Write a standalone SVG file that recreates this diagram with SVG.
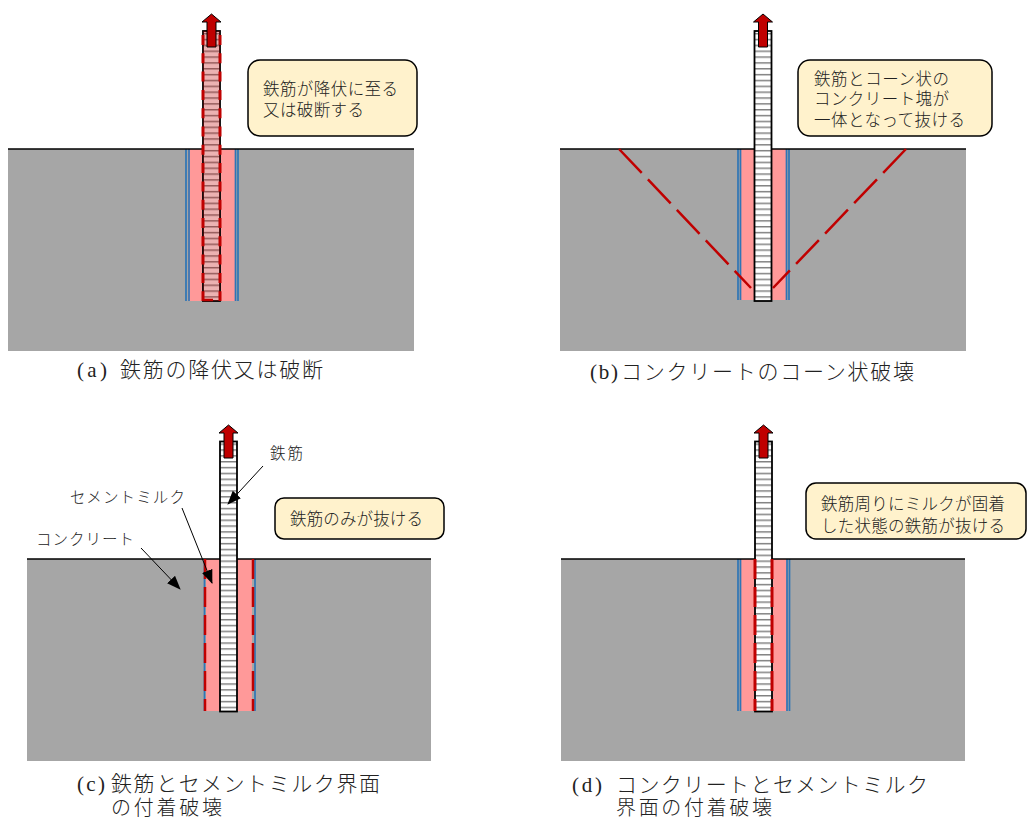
<svg xmlns="http://www.w3.org/2000/svg" width="1027" height="820" viewBox="0 0 1027 820">
<style>
text{font-family:"Liberation Serif","Noto Sans CJK JP",serif;fill:#222;font-weight:300}
.cap{font-size:21px}
.cap2{font-size:20px}
.call{font-size:16.500px}
.lab{font-size:15.500px}
.conc{fill:#a6a6a6}
.milk{fill:#ff9999}
.top{stroke:#000;stroke-width:1.3;fill:none}
.blue{stroke:#2e75b6;stroke-width:1.7;fill:none}
.box{fill:#fff2cc;stroke:#000;stroke-width:1.5}
.red{stroke:#c00000;fill:none}
.lead{stroke:#000;stroke-width:1;fill:none;marker-end:url(#tri)}
</style>
<defs>
<pattern id="hatch" patternUnits="userSpaceOnUse" width="17" height="5.85">
<rect width="17" height="5.85" fill="#fff"/>
<rect y="2" width="17" height="1.4" fill="#7a7a7a"/>
</pattern>
<g id="rebar">
<rect x="0" y="0" width="17" height="270" fill="url(#hatch)" stroke="#000" stroke-width="1.8"/>
</g>
<path id="pull" d="M0 -17L9.500 -9H4.500V16H-4.500V-9H-9.500Z" fill="#c00000" stroke="#000" stroke-width="1"/>
<marker id="tri" markerUnits="userSpaceOnUse" markerWidth="14" markerHeight="12" refX="13" refY="5.500" orient="auto" viewBox="0 0 14 11"><path d="M0 0L14 5.500L0 11Z" fill="#000"/></marker>
</defs>

<g id="panel-a">
<rect class="conc" x="8" y="149" width="406" height="202"/>
<rect class="milk" x="188" y="149" width="48" height="152"/>
<path class="blue" d="M186 149V301M189 149V301M235.500 149V301M238 149V301"/>
<path class="top" d="M8 149H414"/>
<use href="#rebar" x="203" y="31"/>
<rect x="203" y="31" width="17" height="270" fill="#c00000" opacity=".3"/>
<path class="red" stroke-width="3" stroke-dasharray="10 8.300" d="M203 35V301M220 35V301"/>
<path class="red" stroke-width="2.500" d="M203 300H213"/>
<use href="#pull" x="211.500" y="31"/>
</g>
<g id="callout-a">
<rect class="box" x="248" y="60" width="169" height="76" rx="12"/>
<text class="call" x="263" y="95" textLength="135" lengthAdjust="spacing">鉄筋が降伏に至る</text>
<text class="call" x="263" y="116" textLength="101" lengthAdjust="spacing">又は破断する</text>
</g>
<text id="caption-a" class="cap" y="377"><tspan x="77" textLength="30">(a)</tspan><tspan x="120" textLength="203">鉄筋の降伏又は破断</tspan></text>

<g id="panel-b">
<rect class="conc" x="560" y="149" width="406" height="202"/>
<rect class="milk" x="740" y="149" width="47" height="151"/>
<path class="blue" d="M738 149V300M740.500 149V300M786.500 149V300M789 149V300"/>
<path class="top" d="M560 149H966"/>
<use href="#rebar" x="754.500" y="31" />
<path class="red" stroke-width="2.500" stroke-dasharray="33 9" d="M619 149L751 288M906 149L773 288"/>
<use href="#pull" x="763" y="31"/>
</g>
<g id="callout-b">
<rect class="box" x="798" y="60" width="194" height="76" rx="12"/>
<text class="call" x="814" y="85" textLength="135" lengthAdjust="spacing">鉄筋とコーン状の</text>
<text class="call" x="814" y="105" textLength="135" lengthAdjust="spacing">コンクリート塊が</text>
<text class="call" x="814" y="126" textLength="151" lengthAdjust="spacing">一体となって抜ける</text>
</g>
<text id="caption-b" class="cap" y="379"><tspan x="590" textLength="28">(b)</tspan><tspan x="621" textLength="293">コンクリートのコーン状破壊</tspan></text>

<g id="panel-c">
<rect class="conc" x="27" y="559" width="404" height="202"/>
<rect class="milk" x="206" y="559" width="46" height="152"/>
<path class="blue" stroke-width="2.500" d="M204.500 559V711M255 559V711"/>
<path class="top" d="M27 559H431"/>
<use href="#rebar" x="220" y="441.500"/>
<path class="red" stroke-width="2.500" stroke-dasharray="20 8" d="M205 559V711M253 559V711"/>
<use href="#pull" x="228.500" y="442"/>
</g>
<g id="callout-c">
<rect class="box" x="275" y="498" width="169" height="41" rx="9"/>
<text class="call" x="290" y="525" textLength="133" lengthAdjust="spacing">鉄筋のみが抜ける</text>
</g>
<text id="label-rebar" class="lab" x="270" y="459" textLength="33" lengthAdjust="spacing">鉄筋</text>
<text id="label-milk" class="lab" x="70" y="503" textLength="115" lengthAdjust="spacing">セメントミルク</text>
<text id="label-conc" class="lab" x="36" y="545" textLength="98" lengthAdjust="spacing">コンクリート</text>
<g id="connectors">
<path class="lead" d="M263 466L228 504"/>
<path class="lead" d="M182 508L212 583"/>
<path class="lead" d="M141 548L180 589"/>
</g>
<text id="caption-c1" class="cap" y="791"><tspan x="77" textLength="28">(c)</tspan><tspan x="111" textLength="269">鉄筋とセメントミルク界面</tspan></text>
<text id="caption-c2" class="cap2" x="111" y="815" textLength="111" lengthAdjust="spacing">の付着破壊</text>

<g id="panel-d">
<rect class="conc" x="561" y="559" width="404" height="202"/>
<rect class="milk" x="740" y="559" width="47" height="152"/>
<path class="blue" d="M738 559V711M740.500 559V711M787 559V711M789.500 559V711"/>
<path class="top" d="M561 559H965"/>
<use href="#rebar" x="755" y="441.500"/>
<path class="red" stroke-width="3" stroke-dasharray="20 8" d="M755 559V711M772 559V711"/>
<use href="#pull" x="763.500" y="442"/>
</g>
<g id="callout-d">
<rect class="box" x="806" y="483" width="220" height="56" rx="10"/>
<text class="call" x="821" y="510" textLength="184" lengthAdjust="spacing">鉄筋周りにミルクが固着</text>
<text class="call" x="821" y="532" textLength="184" lengthAdjust="spacing">した状態の鉄筋が抜ける</text>
</g>
<text id="caption-d1" class="cap" y="792"><tspan x="572" textLength="30">(d)</tspan><tspan x="616" textLength="312">コンクリートとセメントミルク</tspan></text>
<text id="caption-d2" class="cap2" x="616" y="815" textLength="156" lengthAdjust="spacing">界面の付着破壊</text>
</svg>
